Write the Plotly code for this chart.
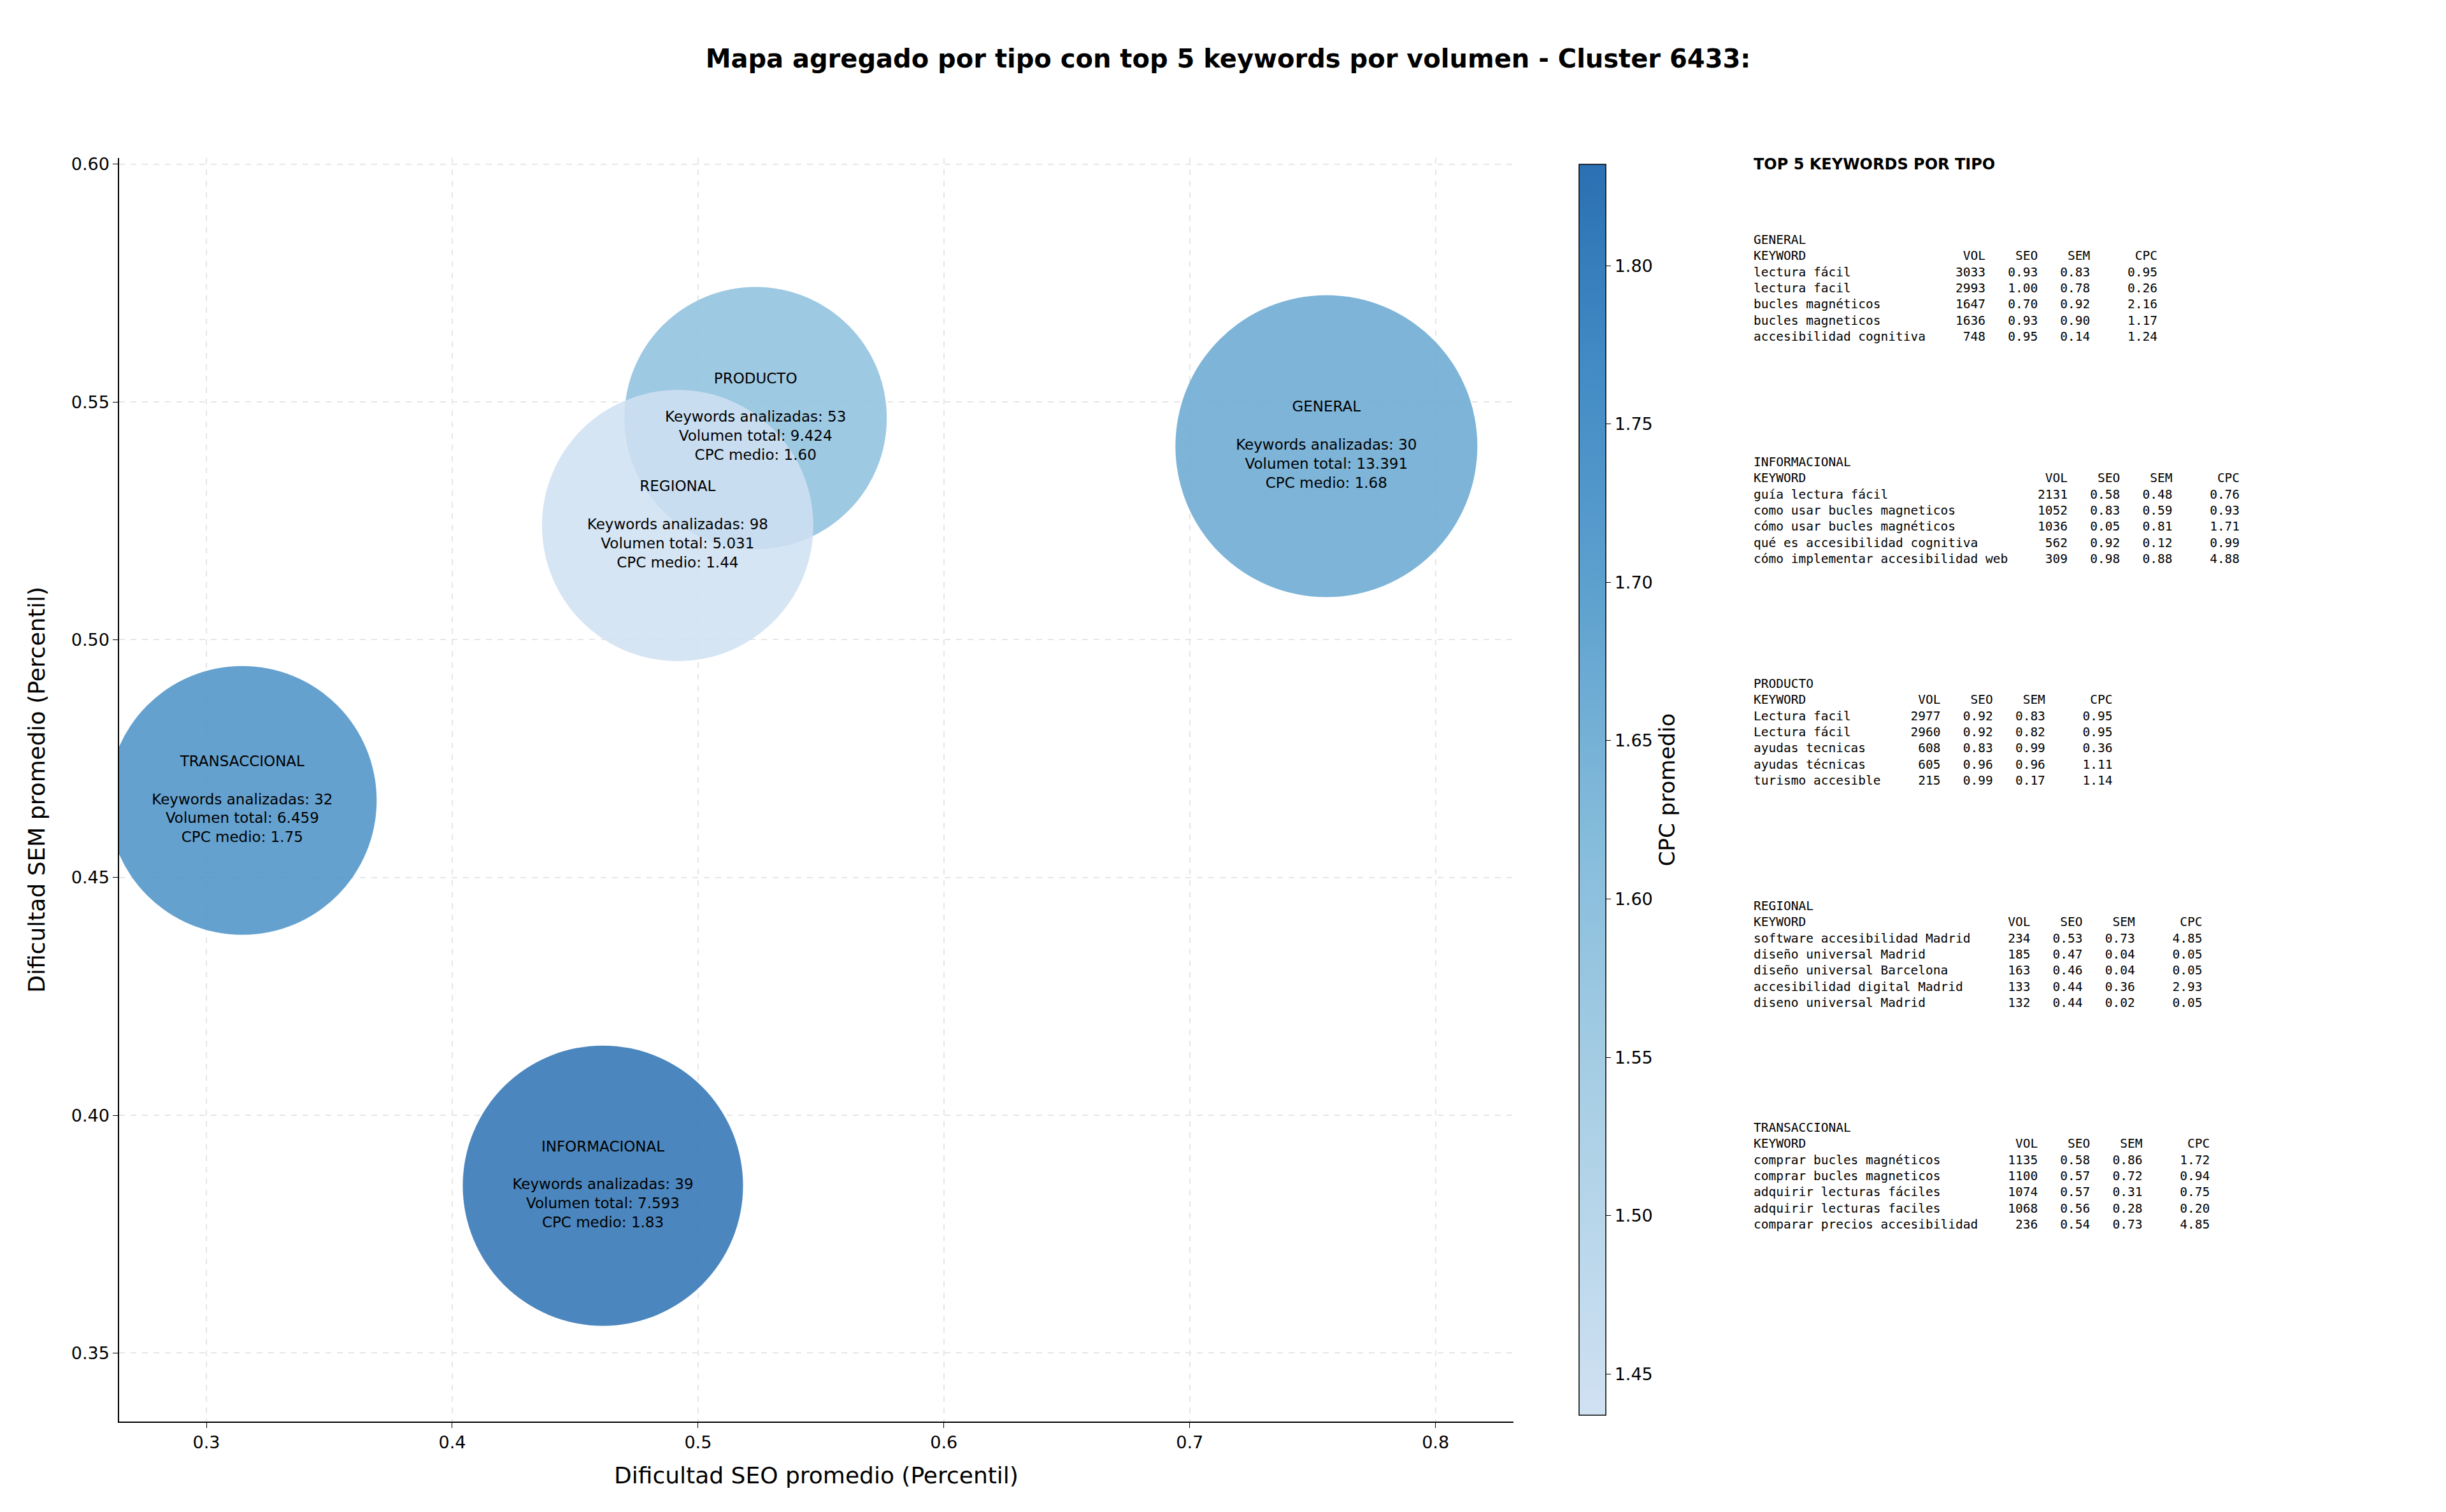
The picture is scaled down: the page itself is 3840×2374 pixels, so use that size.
import plotly.graph_objects as go

# aggregated values per type
tipos = ["GENERAL", "INFORMACIONAL", "PRODUCTO", "REGIONAL", "TRANSACCIONAL"]
seo_medio = [0.7556, 0.4613, 0.5234, 0.4917, 0.3146]
sem_medio = [0.5407, 0.3852, 0.5466, 0.5240, 0.4662]
n_keywords = [30, 39, 53, 98, 32]
volumen = [13391, 7593, 9424, 5031, 6459]
cpc_medio = [1.68, 1.83, 1.60, 1.44, 1.75]

# top 5 keywords per type: (keyword, vol, seo, sem, cpc)
top5 = {
    "GENERAL": [
        ("lectura fácil", 3033, 0.93, 0.83, 0.95),
        ("lectura facil", 2993, 1.00, 0.78, 0.26),
        ("bucles magnéticos", 1647, 0.70, 0.92, 2.16),
        ("bucles magneticos", 1636, 0.93, 0.90, 1.17),
        ("accesibilidad cognitiva", 748, 0.95, 0.14, 1.24),
    ],
    "INFORMACIONAL": [
        ("guía lectura fácil", 2131, 0.58, 0.48, 0.76),
        ("como usar bucles magneticos", 1052, 0.83, 0.59, 0.93),
        ("cómo usar bucles magnéticos", 1036, 0.05, 0.81, 1.71),
        ("qué es accesibilidad cognitiva", 562, 0.92, 0.12, 0.99),
        ("cómo implementar accesibilidad web", 309, 0.98, 0.88, 4.88),
    ],
    "PRODUCTO": [
        ("Lectura facil", 2977, 0.92, 0.83, 0.95),
        ("Lectura fácil", 2960, 0.92, 0.82, 0.95),
        ("ayudas tecnicas", 608, 0.83, 0.99, 0.36),
        ("ayudas técnicas", 605, 0.96, 0.96, 1.11),
        ("turismo accesible", 215, 0.99, 0.17, 1.14),
    ],
    "REGIONAL": [
        ("software accesibilidad Madrid", 234, 0.53, 0.73, 4.85),
        ("diseño universal Madrid", 185, 0.47, 0.04, 0.05),
        ("diseño universal Barcelona", 163, 0.46, 0.04, 0.05),
        ("accesibilidad digital Madrid", 133, 0.44, 0.36, 2.93),
        ("diseno universal Madrid", 132, 0.44, 0.02, 0.05),
    ],
    "TRANSACCIONAL": [
        ("comprar bucles magnéticos", 1135, 0.58, 0.86, 1.72),
        ("comprar bucles magneticos", 1100, 0.57, 0.72, 0.94),
        ("adquirir lecturas fáciles", 1074, 0.57, 0.31, 0.75),
        ("adquirir lecturas faciles", 1068, 0.56, 0.28, 0.20),
        ("comparar precios accesibilidad", 236, 0.54, 0.73, 4.85),
    ],
}

diametros = [474, 440, 412, 426, 422]

W, H = 3840, 2374
L, R, T, B = 179, 1472, 240, 150
ph = H - T - B

escala = [[0.0, "#d0e1f2"], [0.25, "#a9cfe5"], [0.45, "#87bddc"],
          [0.65, "#5fa2cf"], [0.85, "#4089c4"], [1.0, "#2a70b2"]]

def miles(v):
    return f"{v:,}".replace(",", ".")

textos = [f"{t}<br> <br>Keywords analizadas: {n}<br>Volumen total: {miles(v)}<br>CPC medio: {c:.2f}"
          for t, n, v, c in zip(tipos, n_keywords, volumen, cpc_medio)]

fig = go.Figure(go.Scatter(
    x=seo_medio, y=sem_medio, mode="markers+text", text=textos,
    textposition="middle center",
    textfont=dict(size=23, color="black", family="DejaVu Sans"),
    marker=dict(size=diametros, color=cpc_medio, colorscale=escala,
                cmin=1.437, cmax=1.832, opacity=0.85, line=dict(width=0),
                colorbar=dict(x=1.0425, xanchor="left", y=0.5, len=1.0, lenmode="fraction",
                              thickness=42, outlinewidth=1.5, outlinecolor="black",
                              ticks="outside", ticklen=8, tickcolor="black",
                              tickvals=[1.45, 1.5, 1.55, 1.6, 1.65, 1.7, 1.75, 1.8],
                              ticktext=[f"{v:.2f}" for v in [1.45, 1.5, 1.55, 1.6, 1.65, 1.7, 1.75, 1.8]],
                              tickfont=dict(size=27, family="DejaVu Sans"),
                              title=dict(text="CPC promedio", side="right",
                                         font=dict(size=34, family="DejaVu Sans")))),
    hoverinfo="skip", showlegend=False))

axis_common = dict(showline=True, linecolor="black", linewidth=1.5, mirror=False,
                   ticks="outside", ticklen=8, tickcolor="black",
                   tickfont=dict(size=27, family="DejaVu Sans"),
                   showgrid=True, gridcolor="#e6e6e6", griddash="dash", gridwidth=1.5,
                   zeroline=False)
fig.update_xaxes(range=[0.2645, 0.8317], tickvals=[0.3, 0.4, 0.5, 0.6, 0.7, 0.8],
                 title=dict(text="Dificultad SEO promedio (Percentil)", font=dict(size=36), standoff=25),
                 **axis_common)
fig.update_yaxes(range=[0.3356, 0.6013], tickvals=[0.35, 0.4, 0.45, 0.5, 0.55, 0.6],
                 ticktext=["0.35", "0.40", "0.45", "0.50", "0.55", "0.60"],
                 title=dict(text="Dificultad SEM promedio (Percentil)", font=dict(size=36), standoff=30),
                 **axis_common)

tx = (2743 - L) / (W - L - R)
fig.add_annotation(x=tx, y=(H - B - 250) / ph, xref="paper", yref="paper",
                   xanchor="left", yanchor="middle", showarrow=False, align="left",
                   text="<b>TOP 5 KEYWORDS POR TIPO</b>",
                   font=dict(size=24, family="DejaVu Sans", color="black"))

y0 = (H - B - 355) / ph
paso = 348.5 / ph
for i, tipo in enumerate(tipos):
    filas = top5[tipo]
    w = max(len(f[0]) for f in filas) + 3
    lineas = [tipo, f"{'KEYWORD':<{w}}{'VOL':>5}{'SEO':>7}{'SEM':>7}{'CPC':>9}"]
    for kw, v, s, m, c in filas:
        lineas.append(f"{kw:<{w}}{v:>5}{s:>7.2f}{m:>7.2f}{c:>9.2f}")
    texto = "<br>".join(l.replace(" ", "\u00a0") for l in lineas)
    fig.add_annotation(x=tx, y=y0 - i * paso, xref="paper", yref="paper",
                       xanchor="left", yanchor="top", showarrow=False, align="left",
                       text=texto,
                       font=dict(size=19.5, family="DejaVu Sans Mono", color="black"))

fig.update_layout(
    width=W, height=H,
    margin=dict(l=L, r=R, t=T, b=B),
    paper_bgcolor="white", plot_bgcolor="white",
    font=dict(family="DejaVu Sans", color="black"),
    title=dict(text="<b>Mapa agregado por tipo con top 5 keywords por volumen - Cluster 6433:</b>",
               x=0.5, xref="paper", xanchor="center", y=1 - 84 / H, yanchor="middle",
               font=dict(size=40, family="DejaVu Sans")),
)
fig.update_layout(title_x=(W / 2) / W, title_xref="container")

fig.write_html("out.html")
